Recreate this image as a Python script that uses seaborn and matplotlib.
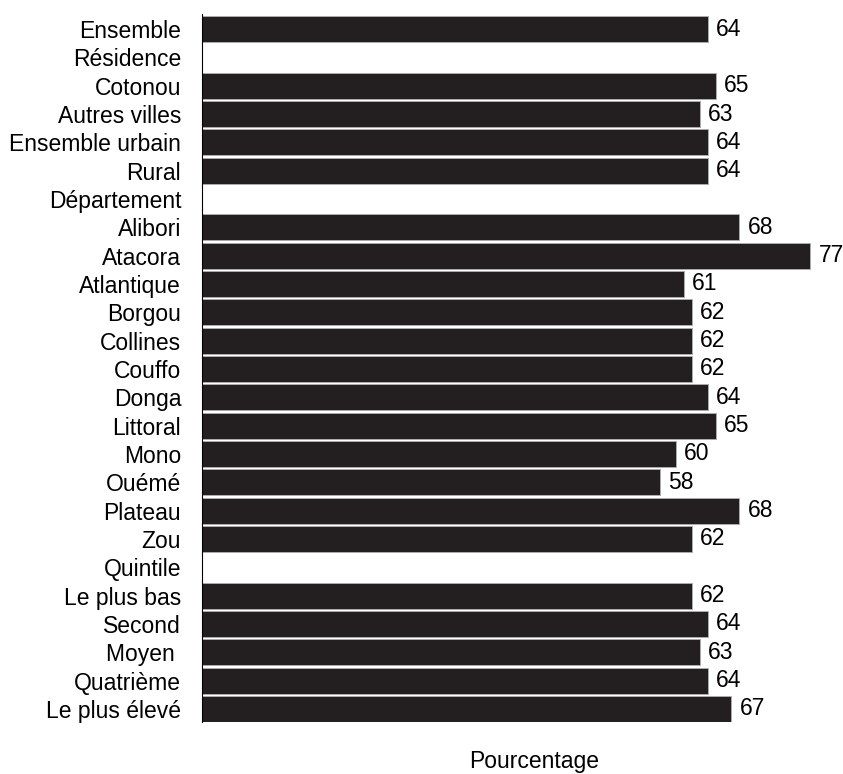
import numpy as np
import pandas as pd
import matplotlib
matplotlib.use("Agg")
import matplotlib.pyplot as plt
import seaborn as sns

categories = ["Ensemble", "Résidence", "Cotonou", "Autres villes", "Ensemble urbain",
              "Rural", "Département", "Alibori", "Atacora", "Atlantique", "Borgou",
              "Collines", "Couffo", "Donga", "Littoral", "Mono", "Ouémé", "Plateau",
              "Zou", "Quintile", "Le plus bas", "Second", "Moyen ", "Quatrième",
              "Le plus élevé"]
values = [64, np.nan, 65, 63, 64, 64, np.nan, 68, 77, 61, 62, 62, 62, 64, 65,
          60, 58, 68, 62, np.nan, 62, 64, 63, 64, 67]

df = pd.DataFrame({"categorie": categories, "pourcentage": values})

sns.set_style("white")
plt.rcParams['font.family'] = ['Liberation Sans', 'DejaVu Sans']
plt.rcParams['text.color'] = 'black'

fig = plt.figure(figsize=(8.43, 7.74), dpi=100)
ax = fig.add_axes([202 / 843, 52 / 774, 641 / 843, 708 / 774])

sns.barplot(data=df.dropna(), x="pourcentage", y="categorie", order=categories,
            color="#231f20", saturation=1, width=0.92, edgecolor="#b0b0b0",
            linewidth=0.6, ax=ax)

for cont in ax.containers:
    ax.bar_label(cont, fmt="%.0f", padding=6, fontsize=16.5, color="black")

ax.set_xlim(0, 641 / 7.9)
ax.set_ylim(24.46, -0.53)
ax.set_xticks([])
ax.set_ylabel("")
ax.set_xlabel("")
fig.text(534 / 843, 6 / 774, "Pourcentage", fontsize=16.5, ha="center",
         va="baseline", color="black")
ax.tick_params(axis="y", length=0, labelsize=16.5, pad=15, labelcolor="black")
for s in ["top", "right", "bottom"]:
    ax.spines[s].set_visible(False)
ax.spines["left"].set_color("black")
ax.spines["left"].set_linewidth(0.8)

plt.savefig("out.png", dpi=100)
